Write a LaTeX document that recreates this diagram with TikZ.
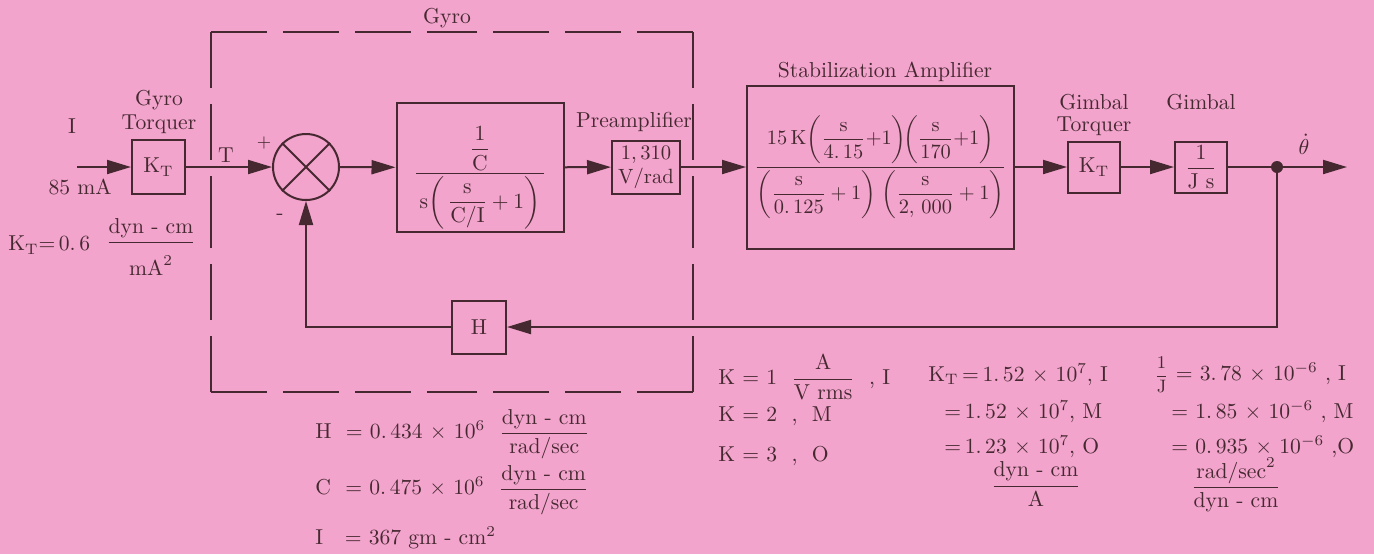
\RequirePackage{fix-cm}
\documentclass[tikz,border=0pt]{standalone}
\usepackage{amsmath}
\usetikzlibrary{arrows.meta,calc}
\definecolor{bg}{RGB}{242,164,204}
\definecolor{ink}{RGB}{70,40,48}
\begin{document}
\begin{tikzpicture}[x=0.5pt,y=-0.5pt,
  every node/.append style={font=\fontsize{10.8}{13}\selectfont},
  blk/.style={draw=ink,line width=1pt,inner sep=0pt,text=ink},
  lbl/.style={text=ink,inner sep=0pt},
  sig/.style={draw=ink,line width=1pt},
  arr/.style={sig,-{Triangle[length=12pt,width=7pt]}},
  gyrodash/.style={draw=ink,line width=1pt,dash pattern=on 28pt off 8pt}
]
\fill[bg] (0,0) rectangle (1374,554);
\useasboundingbox (0,0) rectangle (1374,554);

% blocks
\node[blk,minimum width=26.5pt,minimum height=27pt] (kt1) at (158.5,167) {$\mathrm{K_T}$};
\node[blk,circle,minimum size=33pt] (sum) at (306,167) {};
\draw[sig] (sum.north west) -- (sum.south east) (sum.north east) -- (sum.south west);
\node[blk,minimum width=83.5pt,minimum height=64.5pt] (gc) at (480,167.5)
  {\raisebox{0pt}[34pt][23pt]{$\dfrac{\makebox[64pt]{$\dfrac{1}{\mathrm{C}}$}}{\rule{0pt}{16pt}\mathrm{s}\biggl(\,\dfrac{\mathrm{s}}{\mathrm{C/I}}+1\biggr)}$}};
\node[blk,minimum width=34pt,minimum height=26.5pt,align=center,font=\fontsize{10.3}{12}\selectfont] (pre) at (646,167) {1,\,310\\V/rad};
\node[blk,minimum width=133.5pt,minimum height=81.5pt,font=\fontsize{10.2}{12}\selectfont] (stab) at (880.5,167)
  {$\dfrac{\makebox[119pt]{$15\,\mathrm{K}\biggl(\dfrac{\mathrm{s}}{4.\,15}{+}1\biggr)\!\biggl(\dfrac{\mathrm{s}}{170}{+}1\biggr)$}}{\biggl(\dfrac{\mathrm{s}}{0.\,125}+1\biggr)\;\biggl(\dfrac{\mathrm{s}}{2,\,000}+1\biggr)}$};
\node[blk,minimum width=26pt,minimum height=25.5pt] (kt2) at (1094,167) {$\mathrm{K_T}$};
\node[blk,minimum width=26pt,minimum height=25.5pt] (gim) at (1201,167) {$\dfrac{1}{\mathrm{J\ s}}$};
\node[circle,fill=ink,minimum size=6pt,inner sep=0pt] (dot) at (1277,167) {};
\node[blk,minimum width=27pt,minimum height=26.5pt] (H) at (479,327) {H};
\coordinate (in) at (77,167);
\coordinate (out) at (1347,167);

% gyro dashed box
\coordinate (gtl) at (211,32);
\coordinate (gtr) at (693,32);
\coordinate (gbr) at (693,392);
\coordinate (gbl) at (211,392);
\foreach \a/\b in {gtl/gtr,gtr/gbr,gbr/gbl,gbl/gtl}{
  \draw[gyrodash] (\a) -- ($(\a)!0.5!(\b)$);
  \draw[gyrodash] (\b) -- ($(\a)!0.5!(\b)$);
}

% connectors
\draw[arr] (in) -- (kt1);
\draw[arr] (kt1) -- (sum);
\draw[arr] (sum) -- (gc);
\draw[arr] (gc) -- (pre);
\draw[arr] (pre) -- (stab);
\draw[arr] (stab) -- (kt2);
\draw[arr] (kt2) -- (gim);
\draw[sig] (gim) -- (dot);
\draw[arr] (dot) -- (out);
\draw[arr] (dot) |- (H);
\draw[arr] (H) -| (sum);

% labels
\node[lbl] (tgyro) at (447,18) {Gyro};
\node[lbl] (tgt1) at (159,100) {Gyro};
\node[lbl] (tgt2) at (159,124) {Torquer};
\node[lbl] (tI) at (72,126) {I};
\node[lbl] (t85) at (80,187) {85 mA};
\node[lbl] (tT) at (226,155) {T};
\node[lbl,font=\small] (tplus) at (264,143) {+};
\node[lbl] (tminus) at (280,217) {-};
\node[lbl] (tpre) at (634,122) {Preamplifier};
\node[lbl] (tstab) at (885,72) {Stabilization Amplifier};
\node[lbl] (tgm1) at (1094,102) {Gimbal};
\node[lbl] (tgm2) at (1094,126) {Torquer};
\node[lbl] (tgim) at (1201,102) {Gimbal};
\node[lbl,anchor=south] (ttheta) at (1304,155) {$\dot\theta$};

\node[lbl,anchor=west] (kt06) at (8,245) {$\mathrm{K_T}$=\,0.\,6};
\node[lbl] (kt06u) at (151,247) {$\dfrac{\text{dyn - cm}}{\rule{0pt}{15pt}\text{mA}^2}$};

\node[lbl,anchor=west] (eqH) at (315,434) {H\ \ =\ 0.\,434 $\times$ 10$^6$\ \ $\dfrac{\text{dyn - cm}}{\text{rad/sec}}$};
\node[lbl,anchor=west] (eqC) at (315,490) {C\ \ =\ 0.\,475 $\times$ 10$^6$\ \ $\dfrac{\text{dyn - cm}}{\text{rad/sec}}$};
\node[lbl,anchor=west] (eqI) at (315,538) {I\ \ \ =\ 367 gm - cm$^2$};

\node[lbl,anchor=west] (eqK1) at (718,377) {K\ =\ 1\ \ $\dfrac{\text{A}}{\text{V rms}}$\ \ , I};
\node[lbl,anchor=west] (eqK2) at (718,416) {K = 2\ \ ,\ \ M};
\node[lbl,anchor=west] (eqK3) at (718,456) {K = 3\ \ ,\ \ O};

\node[lbl,anchor=west] (eqT1) at (928,375) {$\mathrm{K_T}$\,=\,1.\,52 $\times$ 10$^7$, I};
\node[lbl,anchor=west] (eqT2) at (944,412) {=\,1.\,52 $\times$ 10$^7$, M};
\node[lbl,anchor=west] (eqT3) at (944,447) {=\,1.\,23 $\times$ 10$^7$, O};
\node[lbl] (eqTu) at (1036,484) {$\dfrac{\text{dyn - cm}}{\text{A}}$};

\node[lbl,anchor=west] (eqJ1) at (1154,375) {{\fontsize{9}{10}\selectfont$\dfrac{1}{\mathrm{J}}$}\ =\ 3.\,78 $\times$ 10$^{-6}$ , I};
\node[lbl,anchor=west] (eqJ2) at (1171,412) {=\ 1.\,85 $\times$ 10$^{-6}$ ,\ M};
\node[lbl,anchor=west] (eqJ3) at (1171,447) {=\ 0.\,935 $\times$ 10$^{-6}$ ,O};
\node[lbl] (eqJu) at (1236,485) {$\dfrac{\text{rad/sec}^2}{\text{dyn - cm}}$};
\end{tikzpicture}
\end{document}
